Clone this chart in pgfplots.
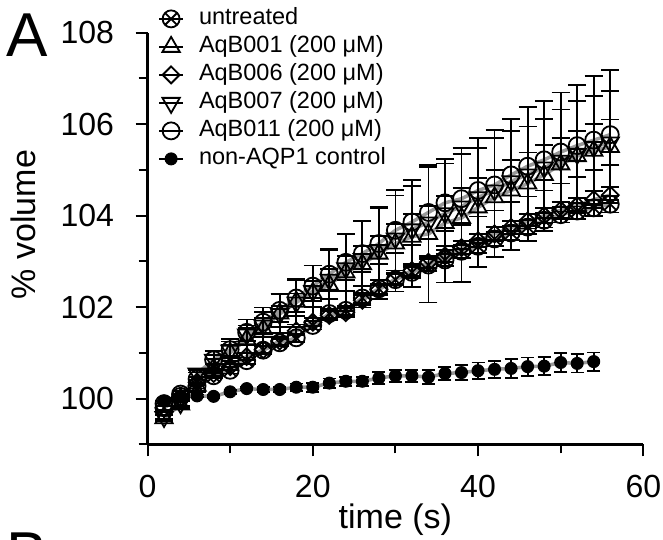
\documentclass[border=0pt]{standalone}
\usepackage{fontspec}
\setmainfont{Liberation Sans}
\usepackage{pgfplots}
\pgfplotsset{compat=1.18}
\usepackage{pgfplotstable}

\pgfplotstableread{
t U Ue D De T Te V Ve C Ce
2 99.80 0.05 99.80 0.05 99.57 0.06 99.60 0.05 99.89 0.05
4 100.05 0.05 100.02 0.05 99.87 0.08 99.90 0.06 100.10 0.08
6 100.28 0.06 100.36 0.06 100.28 0.14 100.55 0.08 100.43 0.14
8 100.50 0.06 100.55 0.06 100.66 0.20 100.85 0.10 100.85 0.20
10 100.62 0.07 100.70 0.07 101.00 0.25 101.05 0.12 101.07 0.24
12 100.83 0.07 100.92 0.07 101.30 0.30 101.40 0.14 101.45 0.28
14 101.06 0.08 101.07 0.08 101.52 0.38 101.60 0.16 101.67 0.32
16 101.22 0.08 101.26 0.08 101.86 0.42 101.85 0.18 101.93 0.36
18 101.33 0.09 101.48 0.09 102.12 0.50 102.10 0.20 102.20 0.40
20 101.60 0.09 101.67 0.09 102.31 0.60 102.35 0.22 102.46 0.45
22 101.86 0.10 101.82 0.10 102.49 0.75 102.60 0.24 102.72 0.55
24 101.93 0.10 101.88 0.10 102.76 0.85 102.85 0.26 102.98 0.62
26 102.20 0.11 102.15 0.11 102.94 0.95 103.05 0.28 103.17 0.70
28 102.40 0.11 102.38 0.11 103.17 1.00 103.25 0.30 103.39 0.80
30 102.60 0.12 102.62 0.12 103.39 1.05 103.50 0.32 103.68 0.88
32 102.76 0.12 102.80 0.12 103.54 1.10 103.70 0.34 103.86 0.92
34 102.92 0.13 102.98 0.13 103.60 1.50 103.85 0.36 104.07 1.00
36 103.03 0.13 103.12 0.13 103.84 1.30 104.05 0.38 104.28 0.95
38 103.22 0.14 103.30 0.14 103.95 1.40 104.20 0.40 104.37 1.10
40 103.33 0.14 103.45 0.14 104.18 1.30 104.40 0.42 104.55 1.15
42 103.49 0.15 103.60 0.15 104.40 1.30 104.55 0.44 104.67 1.20
44 103.62 0.15 103.74 0.15 104.55 1.30 104.75 0.46 104.89 1.22
46 103.75 0.16 103.88 0.16 104.70 1.25 104.90 0.48 105.08 1.30
48 103.90 0.16 104.00 0.16 104.89 1.22 105.05 0.50 105.22 1.28
50 104.02 0.17 104.12 0.17 105.12 1.20 105.20 0.50 105.39 1.30
52 104.10 0.17 104.22 0.17 105.30 1.20 105.35 0.50 105.53 1.33
54 104.17 0.18 104.35 0.18 105.42 1.20 105.50 0.50 105.65 1.40
56 104.25 0.18 104.45 0.18 105.50 1.22 105.60 0.50 105.77 1.42
}\maindata

\pgfplotstableread{
t K Ke
2 99.95 0.03
4 100.06 0.03
6 100.06 0.03
8 100.05 0.03
10 100.15 0.04
12 100.22 0.04
14 100.20 0.05
16 100.20 0.05
18 100.25 0.08
20 100.25 0.10
22 100.34 0.10
24 100.38 0.10
26 100.38 0.10
28 100.45 0.13
30 100.50 0.13
32 100.50 0.13
34 100.47 0.15
36 100.55 0.15
38 100.57 0.17
40 100.61 0.18
42 100.64 0.18
44 100.66 0.20
46 100.70 0.20
48 100.71 0.20
50 100.79 0.20
52 100.77 0.20
54 100.81 0.20
}\ctrldata

\pgfplotsset{
  mylegend/.style={legend image code/.code={
    \draw[black,line width=1.8pt] (0pt,0pt) -- (24pt,0pt);
    \draw[##1] plot coordinates {(12pt,0pt)};
  }},
  grayline/.style={color=black!40, line width=3.5pt, forget plot, no markers},
  series/.style={black, only marks, mylegend,
    error bars/y dir=both, error bars/y explicit,
    error bars/error bar style={line width=1.8pt, black},
    error bars/error mark options={rotate=90, line width=1.8pt, mark size=#1, black}},
  series/.default=9pt,
}

\begin{document}
\begin{tikzpicture}
\useasboundingbox (0pt,0pt) rectangle (663pt,539pt);
\begin{axis}[
  at={(147.5pt,94.6pt)}, anchor=south west,
  scale only axis, width=495.8pt, height=411.8pt,
  xmin=0, xmax=60, ymin=99, ymax=108,
  clip=false,
  axis lines=left, axis line style={-, line width=2.3pt, black},
  xtick={0,20,40,60}, minor xtick={10,30,50},
  ytick={100,102,104,106,108}, minor ytick={99,101,103,105,107},
  tick align=outside, major tick length=12pt, minor tick length=9pt,
  tick style={line width=2pt, black},
  /pgf/number format/assume math mode=true,
  ticklabel style={font=\fontsize{32}{32}\selectfont},
  yticklabel style={xshift=-18pt},
  xticklabel style={yshift=-15pt},
  xlabel={time (s)},
  xlabel style={font=\fontsize{34}{34}\selectfont, at={(axis description cs:0.5,-0.203)}, anchor=base},
  ylabel={\% volume},
  ylabel style={font=\fontsize{34}{34}\selectfont, at={(axis description cs:-0.2269,0.5338)}, anchor=base},
  legend cell align=left,
  legend style={at={(axis description cs:0.0212,1.0593)}, anchor=north west,
    draw=none, fill=none, inner sep=0pt, row sep=7pt, column sep=15pt,
    font=\fontsize{23.5}{23.5}\selectfont,
    nodes={inner sep=0pt, text height=16pt, text depth=5pt}},
]
\addplot[grayline] table[x=t,y=U] {\maindata};
\addplot[grayline] table[x=t,y=T] {\maindata};
\addplot[grayline] table[x=t,y=D] {\maindata};
\addplot[grayline] table[x=t,y=V] {\maindata};
\addplot[grayline] table[x=t,y=C] {\maindata};
\addplot[grayline] table[x=t,y=K] {\ctrldata};

\addplot[series, mark=otimes, mark size=8.5pt, mark options={line width=1.8pt, fill=none}]
  table[x=t,y=U,y error=Ue] {\maindata};
\addlegendentry{untreated}
\addplot[series, mark=triangle, mark size=10pt, mark options={line width=1.8pt, fill=none}]
  table[x=t,y=T,y error=Te] {\maindata};
\addlegendentry{AqB001 (200 μM)}
\addplot[series, mark=square, mark size=6pt, mark options={rotate=45, line width=1.8pt, fill=none}]
  table[x=t,y=D,y error=De] {\maindata};
\addlegendentry{AqB006 (200 μM)}
\addplot[series, mark=triangle, mark size=10pt, mark options={rotate=180, line width=1.8pt, fill=none}]
  table[x=t,y=V,y error=Ve] {\maindata};
\addlegendentry{AqB007 (200 μM)}
\addplot[series, mark=o, mark size=8.5pt, mark options={line width=1.8pt, fill=none}]
  table[x=t,y=C,y error=Ce] {\maindata};
\addlegendentry{AqB011 (200 μM)}
\addplot[series=6.5pt, mark=*, mark size=6pt, mark options={line width=1pt, fill=black}]
  table[x=t,y=K,y error=Ke] {\ctrldata};
\addlegendentry{non-AQP1 control}
\end{axis}
\node[anchor=base west, inner sep=0pt, font=\fontsize{62}{62}\selectfont] at (6pt,482pt) {A};
\node[anchor=north west, inner sep=0pt, font=\fontsize{62}{62}\selectfont] at (6pt,6pt) {B};
\end{tikzpicture}
\end{document}
